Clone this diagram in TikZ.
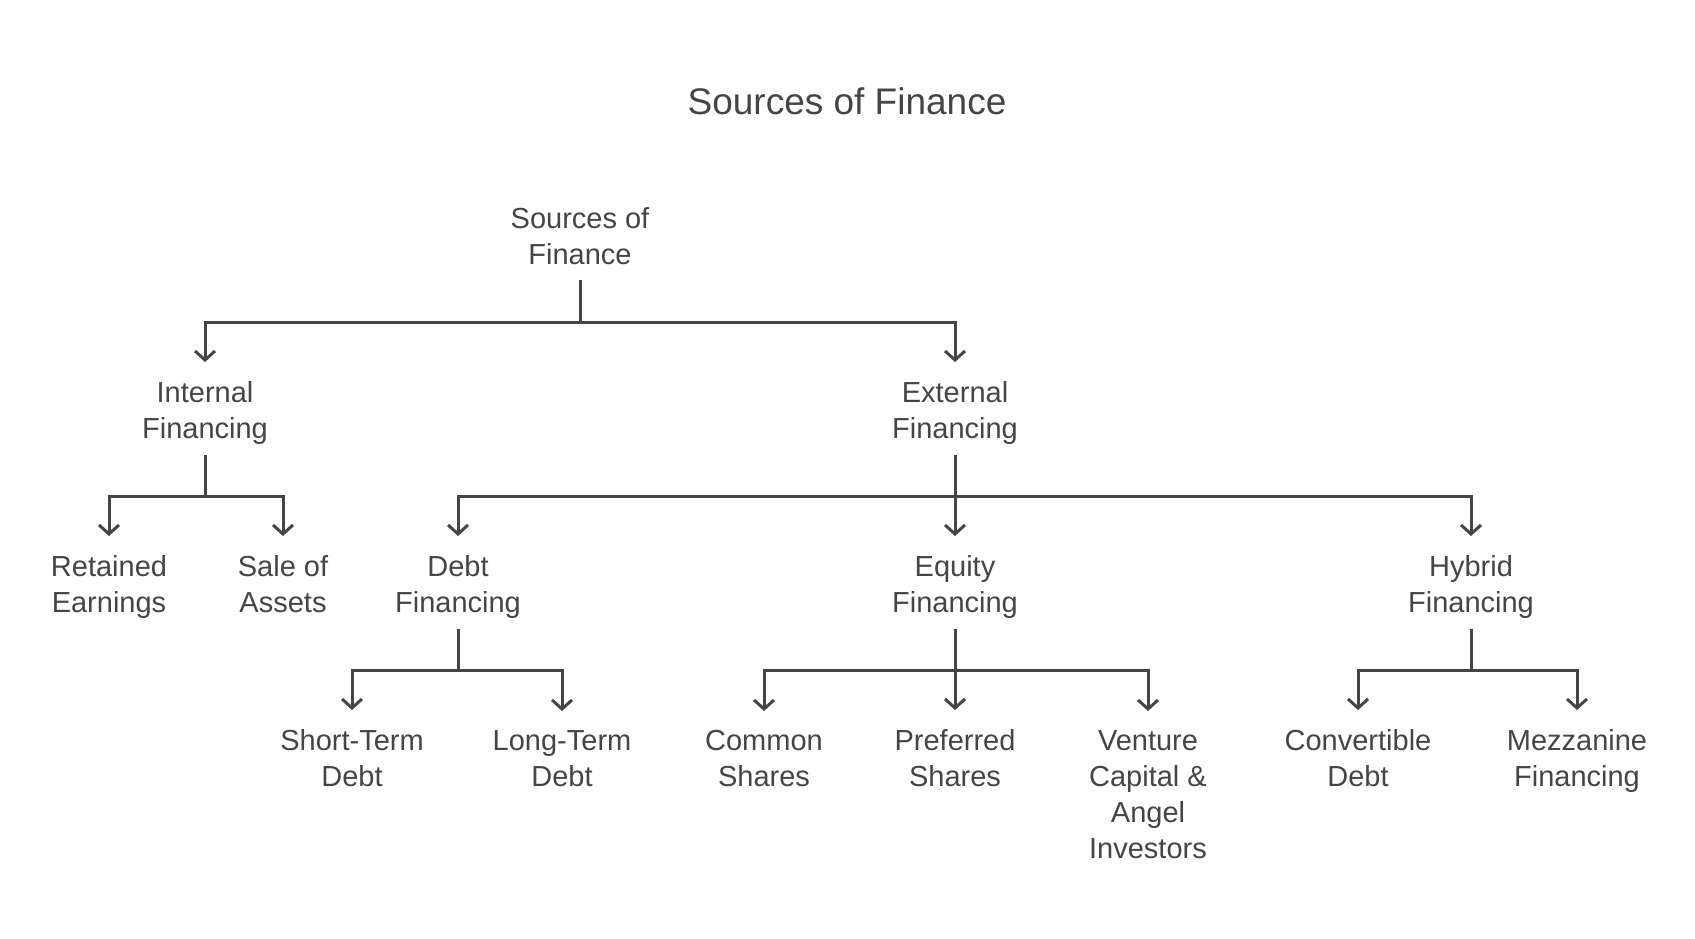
\documentclass[tikz,border=0pt]{standalone}
\usepackage{fontspec}
\setmainfont{Liberation Sans}
\usepackage{xcolor}
\usepackage{tikz}
\usetikzlibrary{arrows.meta, positioning, calc}
\definecolor{FinGray}{HTML}{454545}
\tikzset{
    % Diagram heading
    heading/.style={font=\fontsize{37}{44}\selectfont, text=FinGray, anchor=base},
    % Tree entry (plain text, no frame)
    entry/.style={anchor=north, inner sep=0pt, align=center, text=FinGray,
        font=\fontsize{29}{36}\selectfont},
    % Elbow connector with open arrow head
    branch/.style={draw=FinGray, line width=3pt,
        -{Straight Barb[length=9pt, width=20pt]}, shorten <=11pt, shorten >=19pt},
}

\begin{document}
\begin{tikzpicture}[x=1pt, y=-1pt]
    \useasboundingbox (0,0) rectangle (1695,939);
    \node[heading] (title) at (847,115) {Sources of Finance};

    \node[entry] (root) at (580,207) {Sources of\\Finance};
    \node[entry] (intl) at (205,381) {Internal\\Financing};
    \node[entry] (extl) at (955,381) {External\\Financing};
    \node[entry] (ret) at (109,555) {Retained\\Earnings};
    \node[entry] (sale) at (283,555) {Sale of\\Assets};
    \node[entry] (debt) at (458,555) {Debt\\Financing};
    \node[entry] (eqty) at (955,555) {Equity\\Financing};
    \node[entry] (hybr) at (1471,555) {Hybrid\\Financing};
    \node[entry] (stdebt) at (352,729) {Short-Term\\Debt};
    \node[entry] (ltdebt) at (562,730) {Long-Term\\Debt};
    \node[entry] (common) at (764,730) {Common\\Shares};
    \node[entry] (pref) at (955,729) {Preferred\\Shares};
    \node[entry] (venture) at (1148,730) {Venture\\Capital \&\\Angel\\Investors};
    \node[entry] (conv) at (1358,729) {Convertible\\Debt};
    \node[entry] (mezz) at (1577,729) {Mezzanine\\Financing};

    % junctions of the bars
    \coordinate (j0) at (580,322);
    \coordinate (j1) at (205,496);
    \coordinate (j2) at (955,496);
    \coordinate (j3) at (458,670);
    \coordinate (j4) at (955,670);
    \coordinate (j5) at (1471,670);

    \foreach \c in {intl, extl}
        \draw[branch, shorten <=15pt] (root) -- (j0) -| (\c);
    \foreach \c in {ret, sale}
        \draw[branch] (intl) -- (j1) -| (\c);
    \foreach \c in {debt, eqty, hybr}
        \draw[branch] (extl) -- (j2) -| (\c);
    \foreach \c in {stdebt, ltdebt}
        \draw[branch] (debt) -- (j3) -| (\c);
    \foreach \c in {common, pref, venture}
        \draw[branch] (eqty) -- (j4) -| (\c);
    \foreach \c in {conv, mezz}
        \draw[branch] (hybr) -- (j5) -| (\c);
\end{tikzpicture}
\end{document}
